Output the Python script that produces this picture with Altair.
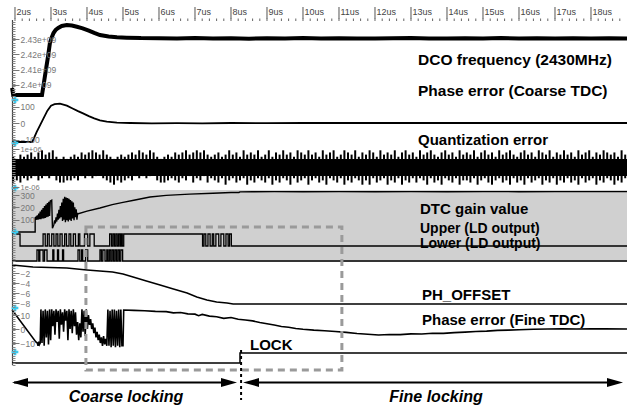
import altair as alt
import pandas as pd

FONT = "Liberation Sans"
W, H = 615, 388
T_MIN, T_MAX = 1.9167, 19.0

# ---------------- data ----------------
major_us = list(range(2, 19))
major_lbl = [f"{u}us" for u in major_us]
minor_us = [round(2 + 0.2 * i, 1) for i in range(85)]

dco_t = [1.92, 1.95, 2.75, 2.80, 2.86, 2.92, 2.97, 3.02, 3.07, 3.13,
         3.20, 3.30, 3.44, 3.58, 3.72, 3.88, 4.05, 4.20, 4.36, 4.60,
         4.83, 5.10, 5.50, 6.0, 6.5, 7.0, 7.5, 8.0, 8.5, 9.0,
         9.5, 10.0, 10.5, 11.0, 11.5, 12.0, 12.5, 13.0, 13.5, 14.0,
         14.5, 15.0, 15.5, 16.0, 16.5, 17.0, 17.5, 18.0, 18.5, 19.0]
dco_ghz = [2.398, 2.3935, 2.3935, 2.401, 2.410, 2.419, 2.4274, 2.431, 2.4339, 2.436,
           2.4372, 2.4385, 2.4391, 2.4388, 2.438, 2.437, 2.4355, 2.434, 2.4326, 2.4317,
           2.4312, 2.4309, 2.4306, 2.4305, 2.4303, 2.4306, 2.4304, 2.4305, 2.4302, 2.4305,
           2.4304, 2.4306, 2.4303, 2.4305, 2.4304, 2.4303, 2.4305, 2.4306, 2.4304, 2.4303,
           2.4305, 2.4304, 2.4306, 2.4303, 2.4305, 2.4304, 2.4305, 2.4303, 2.4305, 2.4304]

co_t = [1.92, 2.48, 2.60, 2.75, 2.90, 3.00, 3.10, 3.25, 3.44, 3.60,
        3.75, 3.89, 4.05, 4.20, 4.36, 4.55, 4.83, 5.2, 5.8, 6.5,
        7.2, 8.0, 9.0, 10.0, 11.0, 12.0, 13.0, 14.0, 15.0, 16.0,
        17.0, 18.0, 19.0]
co_v = [-115, -115, -55, 10, 75, 105, 114, 117, 105, 88,
        72, 58, 42, 28, 16, 8, 2, 0, -2, -1,
        -2, 0, -1, 0, 0, 0, 0, 0, 0, 0,
        0, 0, 0]

q_t0, q_dt = 1.95, 0.1
q_hi = [5, 4, 6, 5, 6, 7, 5, 7, 8, 6, 7, 8, 5, 4,
        5, 4, 5, 6, 5, 7, 6, 7, 8, 7, 6, 8, 6, 5,
        4, 5, 6, 5, 6, 7, 6, 8, 7, 6, 8, 7, 5, 4,
        5, 6, 5, 7, 6, 7, 8, 6, 7, 8, 7, 8, 6, 5,
        6, 7, 5, 6, 8, 6, 7, 5, 8, 6, 7, 6, 8, 5,
        6, 8, 5, 7, 6, 8, 6, 7, 5, 8, 7, 6, 8, 6,
        7, 5, 8, 6, 7, 8, 5, 6, 8, 7, 6, 8, 5, 7,
        6, 8, 7, 5, 8, 6, 7, 6, 8, 5, 7, 8, 6, 7,
        5, 8, 6, 7, 8, 6, 5, 7, 8, 6, 7, 5, 8, 6,
        7, 6, 8, 5, 7, 8, 6, 7, 5, 8, 6, 7, 8, 6,
        5, 7, 8, 6, 7, 5, 8, 7, 6, 8, 5, 7, 6, 8,
        6, 7, 5, 8, 6, 7, 8, 5, 7, 6, 8, 7, 6, 7,
        5, 8, 6]
q_lo = [-7, -6, -7, -5, -6, -5, -4, -6, -5, -4, -5, -3, -6, -7,
        -7, -6, -6, -5, -6, -4, -5, -4, -5, -4, -3, -5, -6, -7,
        -8, -6, -7, -6, -5, -6, -4, -5, -4, -5, -4, -3, -6, -7,
        -7, -6, -5, -6, -7, -5, -6, -4, -7, -5, -6, -4, -7, -5,
        -6, -7, -5, -8, -6, -5, -7, -6, -5, -8, -6, -7, -5, -6,
        -7, -5, -8, -6, -7, -5, -6, -8, -5, -7, -6, -5, -8, -6,
        -5, -7, -6, -8, -5, -6, -7, -5, -8, -6, -7, -5, -6, -8,
        -6, -8, -5, -7, -6, -5, -8, -6, -7, -5, -8, -6, -7, -5,
        -7, -5, -6, -8, -5, -7, -6, -8, -5, -6, -7, -5, -8, -6,
        -6, -7, -5, -8, -6, -5, -7, -8, -6, -5, -7, -6, -8, -5,
        -7, -6, -8, -5, -7, -6, -5, -8, -6, -7, -5, -8, -6, -7,
        -5, -7, -6, -8, -5, -7, -6, -5, -8, -6, -7, -5, -6, -8,
        -6, -7, -5]
q_t = [round(q_t0 + q_dt * i, 2) for i in range(len(q_hi))]

dtc_t = [1.92, 2.56, 2.56,
         2.58, 2.60, 2.62, 2.64, 2.66, 2.68, 2.70, 2.72, 2.74, 2.76, 2.78, 2.80,
         2.82, 2.84, 2.86, 2.88, 2.90, 2.92, 2.94, 2.96, 2.98, 3.00, 3.02, 3.04,
         3.08,
         3.10, 3.12, 3.14, 3.16, 3.18, 3.20, 3.22, 3.24, 3.26, 3.28, 3.30, 3.32,
         3.34, 3.36, 3.38, 3.40, 3.42, 3.44, 3.46, 3.48, 3.50, 3.52, 3.54, 3.56,
         3.58, 3.60, 3.62, 3.64, 3.66, 3.68, 3.70, 3.72, 3.74, 3.76,
         4.0, 4.36, 4.7, 5.0, 5.3, 5.75, 6.2, 6.85, 7.5, 8.0,
         8.22, 8.25, 8.6, 9.2, 10.0, 11.0, 12.0, 13.0, 14.0, 15.0, 16.0, 17.0, 18.0, 19.0]
dtc_v = [0, 0, 115,
         120, 100, 135, 100, 150, 105, 165, 105, 180, 110, 195, 110,
         210, 115, 222, 120, 235, 125, 245, 130, 252, 255, 258, 30,
         60,
         95, 70, 120, 85, 150, 100, 180, 110, 210, 120, 240, 90,
         270, 100, 285, 80, 280, 95, 275, 85, 270, 100, 260, 90,
         250, 110, 240, 95, 200, 120, 185, 100, 150, 148,
         170, 195, 222, 240, 258, 284, 297, 307, 315, 320,
         321, 326, 327, 328, 327, 328, 327, 328, 327, 328, 327, 328, 328, 328]

up_t = [1.92, 2.14, 2.78, 2.84, 2.90, 2.95, 3.02, 3.08, 3.14, 3.19,
        3.25, 3.31, 3.38, 3.43, 3.50, 3.55, 3.62, 3.68, 3.76, 3.80,
        3.93, 4.02, 4.08, 4.20, 4.63, 4.68, 4.72, 4.76, 4.80, 4.84,
        4.88, 4.92, 4.95, 4.98, 5.02, 7.21, 7.25, 7.30, 7.36, 7.42,
        7.48, 7.52, 7.58, 7.66, 7.72, 7.80, 7.86, 7.92, 7.96, 8.01, 19.0]
up_v = [1, 0, 1, 0, 1, 0, 1, 0, 1, 0,
        1, 0, 1, 0, 1, 0, 1, 0, 1, 0,
        1, 0, 1, 0, 1, 0, 1, 0, 1, 0,
        1, 0, 1, 0, 1, 0, 1, 0, 1, 0,
        1, 0, 1, 0, 1, 0, 1, 0, 1, 0, 0]

lo_t = [1.92, 2.61, 2.66, 2.69, 2.78, 2.82, 2.89, 3.05, 3.08, 3.18,
        3.21, 3.32, 3.35, 3.75, 3.80, 3.85, 3.88, 3.96, 4.02, 4.36,
        4.40, 4.44, 4.50, 4.55, 4.58, 4.62, 4.66, 4.70, 4.74, 4.78,
        4.82, 4.86, 4.90, 4.94, 4.99, 19.0]
lo_v = [0, 1, 0, 1, 0, 1, 0, 1, 0, 1,
        0, 1, 0, 1, 0, 1, 0, 1, 0, 1,
        0, 1, 0, 1, 0, 1, 0, 1, 0, 1,
        0, 1, 0, 1, 0, 0]

ph_t = [1.92, 2.5, 3.44, 4.0, 4.71, 5.0, 5.28, 5.65, 6.03, 6.4, 6.78, 7.05, 7.33, 7.6, 7.89, 8.06, 19.0]
ph_v = [-0.4, -0.8, -1.0, -1.4, -1.8, -2.2, -2.8, -3.6, -4.4, -5.2, -6.0, -6.8, -7.4, -7.8, -8.0, -8.2, -8.2]

fi_head_t = [1.92, 2.58, 2.62, 2.64, 2.66, 2.68, 2.70]
fi_head_v = [13.5, -9.3, -10, -12, -9, -11, -10]
fi_mid_t0, fi_mid_dt = 2.72, 0.03
fi_mid_v = [14, -10, 13, -12, 14, -6, 13, -11, 14, -8,
            14, 2, 13, -4, 14, 5, 13, -7, 14, 3,
            12, -2, 14, 6, 13, -8, 14, 0, 13, -3,
            14, 2, 12, -4, 5, -8, 4, -6, 14, -2,
            13, -5, 14, 0, 10, 3, 7, 0, 4, -3,
            1, -6, -2, -8, -4, -10, -6, -12, -5, -11,
            -7, -12, 14, -12, 13, -13, 14, -12, 14, -13,
            13, -12, 14, -13, 14, -12]
fi_mid_t = [round(fi_mid_t0 + fi_mid_dt * i, 2) for i in range(len(fi_mid_v))]
fi_tail_t = [5.00, 5.02, 5.3, 5.6, 5.9, 6.2, 6.4, 6.6, 6.8, 7.0,
             7.1, 7.2, 7.4, 7.6, 7.8, 8.0, 8.2, 8.4, 8.6, 8.8,
             9.0, 9.2, 9.4, 9.6, 9.8, 10.0, 10.3, 10.6, 10.9, 11.2,
             11.5, 11.8, 12.1, 12.4, 12.7, 13.0, 13.3, 13.6, 13.9, 14.2,
             14.5, 14.8, 15.1, 15.4, 15.7, 16.0, 16.4, 16.8, 17.2, 17.6,
             18.0, 18.4, 19.0]
fi_tail_v = [-12, 13.6, 13.3, 13.0, 12.6, 12.4, 11.5, 11.8, 10.8, 10.6,
             9.5, 10.4, 9.2, 8.8, 7.6, 8.2, 7.0, 6.4, 5.8, 4.6,
             3.8, 2.8, 1.8, 1.2, 0.4, -0.2, -0.8, -1.2, -1.8, -2.4,
             -3.2, -3.8, -4.3, -3.9, -4.0, -3.5, -3.6, -3.0, -3.1, -2.6,
             -2.2, -1.8, -1.5, -1.0, -0.8, -0.5, -0.2, 0.0, 0.1, 0.0,
             0.2, 0.1, 0.0]

lk_t = [1.92, 8.25, 19.0]
lk_v = [0, 1, 1]

box_t = [3.97, 11.08]
boundary_t = [8.28]

# ---------------- frames ----------------
dco_df = pd.DataFrame({"t": dco_t, "v": [g * 1e9 for g in dco_ghz]})
co_df = pd.DataFrame({"t": co_t, "v": co_v})
qcore_df = pd.DataFrame({"t": [T_MIN, T_MAX], "lo": [-4, -4], "hi": [4, 4]})
qbar_df = pd.DataFrame({"t": q_t, "lo": q_lo, "hi": q_hi})
dtc_df = pd.DataFrame({"t": dtc_t, "v": dtc_v})
up_df = pd.DataFrame({"t": up_t, "v": up_v})
lo_df = pd.DataFrame({"t": lo_t, "v": lo_v})
ph_df = pd.DataFrame({"t": ph_t, "v": ph_v})
fi_df = pd.DataFrame({"t": fi_head_t + fi_mid_t + fi_tail_t, "v": fi_head_v + fi_mid_v + fi_tail_v})
lk_df = pd.DataFrame({"t": lk_t, "v": lk_v})
major_df = pd.DataFrame({"t": major_us, "lbl": major_lbl})
minor_df = pd.DataFrame({"t": minor_us})
one = pd.DataFrame({"k": [0]})

xs = alt.Scale(domain=[T_MIN, T_MAX], nice=False, zero=False)


def X():
    return alt.X("t:Q", scale=xs, axis=None)


def ys(domain, rng):
    return alt.Scale(domain=domain, range=rng, nice=False, zero=False)


def lane_axis(values, expr=None, size=8.5):
    kw = dict(orient="left", values=values, offset=-7, tickSize=7, tickColor="#777",
              domain=False, grid=False, labelAlign="left", labelBaseline="middle",
              labelPadding=-8, labelColor="#777", labelFont=FONT, labelFontSize=size,
              labelOverlap=False, labelFlush=False, title=None, zindex=1)
    if expr:
        kw["labelExpr"] = expr
    return alt.Axis(**kw)


layers = []

# gray background for DTC / LD lanes
layers.append(alt.Chart(one).mark_rect(color="#d0d0d0").encode(
    x=alt.value(0), x2=alt.value(W), y=alt.value(170), y2=alt.value(242)))

# ruler (minor ticks on left edge)
layers.append(alt.Chart(one).mark_rule(opacity=0).encode(
    y=alt.Y("k:Q", scale=ys([0, 149], [345, 2]),
            axis=alt.Axis(orient="left", values=list(range(150)), offset=-3, tickSize=3,
                          labels=False, domain=False, grid=False, title=None,
                          tickColor="#888", zindex=1))))
layers.append(alt.Chart(one).mark_rule(color="#444", strokeWidth=1.2).encode(
    x=alt.value(0.5), y=alt.value(0), y2=alt.value(345)))

# time ruler at the top
layers.append(alt.Chart(minor_df).mark_rule(color="#666", strokeWidth=1).encode(
    x=X(), y=alt.value(-1.5), y2=alt.value(1)))
layers.append(alt.Chart(major_df).mark_rule(color="#555", strokeWidth=1).encode(
    x=X(), y=alt.value(-13), y2=alt.value(-1)))
layers.append(alt.Chart(major_df).mark_text(
    align="left", baseline="alphabetic", dx=1.5, font="Liberation Sans Narrow, Liberation Sans",
    fontSize=9, color="#444").encode(x=X(), y=alt.value(-5), text="lbl:N"))

# DCO frequency
layers.append(alt.Chart(dco_df).mark_line(color="black", strokeWidth=4).encode(
    x=X(),
    y=alt.Y("v:Q", scale=ys([2.39e9, 2.44e9], [80.3, 3.7]),
            axis=lane_axis([2.4e9, 2.41e9, 2.42e9, 2.43e9],
                           "format(datum.value / 1e9, '.3~f') + 'e+09'"))))

# coarse phase error
layers.append(alt.Chart(co_df).mark_line(color="black", strokeWidth=1.8).encode(
    x=X(), y=alt.Y("v:Q", scale=ys([-140, 140], [126.1, 79.9]), axis=lane_axis([100, 0, -100]))))

# quantization error
qs = [-10, 10]
qr = [169, 126]
layers.append(alt.Chart(qcore_df).mark_area(color="black").encode(
    x=X(), y=alt.Y("lo:Q", scale=ys(qs, qr),
                   axis=lane_axis([8.6, -9.2], "datum.value > 0 ? '1e+06' : '1e-06'", 7.5)),
    y2="hi:Q"))
layers.append(alt.Chart(qbar_df).mark_rule(color="black", strokeWidth=2).encode(
    x=X(), y=alt.Y("lo:Q", scale=ys(qs, qr), axis=None), y2="hi:Q"))

# DTC gain
layers.append(alt.Chart(dtc_df).mark_line(color="black", strokeWidth=1.4).encode(
    x=X(), y=alt.Y("v:Q", scale=ys([-20, 340], [214.5, 170.1]), axis=lane_axis([100, 200, 300]))))

# Upper / Lower LD outputs
layers.append(alt.Chart(up_df).mark_line(color="black", strokeWidth=1.3, interpolate="step-after").encode(
    x=X(), y=alt.Y("v:Q", scale=ys([0, 1], [226, 214]), axis=None)))
layers.append(alt.Chart(lo_df).mark_line(color="black", strokeWidth=1.3, interpolate="step-after").encode(
    x=X(), y=alt.Y("v:Q", scale=ys([0, 1], [241, 230]), axis=None)))

# PH_OFFSET
layers.append(alt.Chart(ph_df).mark_line(color="black", strokeWidth=1.5).encode(
    x=X(), y=alt.Y("v:Q", scale=ys([-9, 0], [288, 243]), axis=lane_axis([-2, -4, -6, -8]))))

# fine phase error
layers.append(alt.Chart(fi_df).mark_line(color="black", strokeWidth=1.6).encode(
    x=X(), y=alt.Y("v:Q", scale=ys([-16, 16], [331.4, 286.6]), axis=lane_axis([10, 0, -10]))))

# LOCK
layers.append(alt.Chart(lk_df).mark_line(color="black", strokeWidth=1.5, interpolate="step-after").encode(
    x=X(), y=alt.Y("v:Q", scale=ys([0, 1], [343, 333]), axis=None)))

# dashed gray box and boundary
layers.append(alt.Chart(pd.DataFrame({"t": [box_t[0]], "t2": [box_t[1]]})).mark_rect(
    filled=False, color="#9a9a9a", strokeWidth=3, strokeDash=[7, 5]).encode(
    x=X(), x2="t2:Q", y=alt.value(207), y2=alt.value(350)))
layers.append(alt.Chart(pd.DataFrame({"t": boundary_t})).mark_rule(
    color="black", strokeWidth=2, strokeDash=[3, 3]).encode(
    x=X(), y=alt.value(330), y2=alt.value(380)))

# arrows
for x1, x2 in [(2, 218), (238, 605)]:
    layers.append(alt.Chart(one).mark_rule(color="black", strokeWidth=2).encode(
        x=alt.value(x1), x2=alt.value(x2), y=alt.value(362.5)))
LEFT = "M-1,0L1,-0.55L1,0.55Z"
RIGHT = "M1,0L-1,-0.55L-1,0.55Z"
for xc, shp in [(8, LEFT), (217, RIGHT), (239, LEFT), (603, RIGHT)]:
    layers.append(alt.Chart(one).mark_point(shape=shp, size=256, filled=True, color="black", opacity=1).encode(
        x=alt.value(xc), y=alt.value(362.5)))


def label(txt, x, y, size=15, italic=False, align="left"):
    return alt.Chart(one).mark_text(text=txt, align=align, baseline="alphabetic", font=FONT,
                                    fontSize=size, fontWeight="bold",
                                    fontStyle="italic" if italic else "normal",
                                    color="black").encode(x=alt.value(x), y=alt.value(y))


layers += [
    label("DCO frequency (2430MHz)", 406, 45, 15.5),
    label("Phase error (Coarse TDC)", 406, 76, 15.5),
    label("Quantization error", 406, 125),
    label("DTC gain value", 408, 194),
    label("Upper (LD output)", 408, 213, 14),
    label("Lower (LD output)", 408, 227.5, 14),
    label("PH_OFFSET", 410, 280),
    label("Phase error (Fine TDC)", 410, 305),
    label("LOCK", 238, 330),
    label("Coarse locking", 114, 382, 16, True, "center"),
    label("Fine locking", 424, 382, 16, True, "center"),
]

# cyan lane markers
for yy in [80, 123, 168, 212, 288, 332]:
    layers.append(alt.Chart(one).mark_point(shape="cross", size=45, filled=True, color="#3ccbef", opacity=1).encode(
        x=alt.value(3), y=alt.value(yy)))

chart = alt.layer(*layers).resolve_scale(y="independent").properties(
    width=W, height=H,
    padding={"left": 12, "top": 20, "right": 2, "bottom": 0},
    autosize=alt.AutoSizeParams(type="none"),
    background="white",
).configure_view(strokeWidth=0)

chart.save("out.html", embed_options={"renderer": "svg", "actions": False})
